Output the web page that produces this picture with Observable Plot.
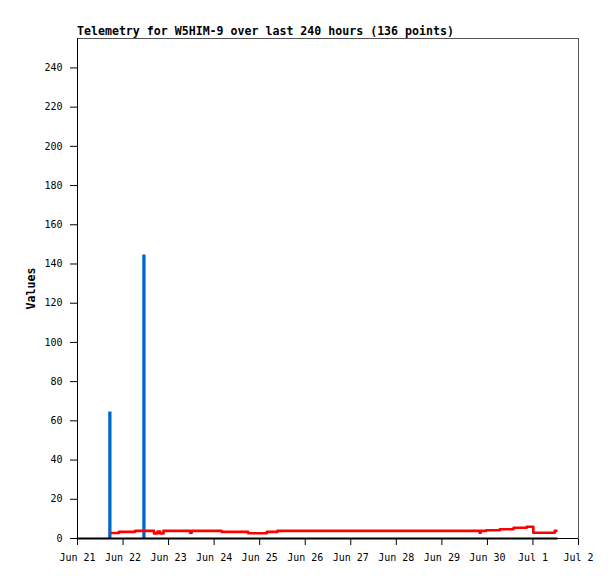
<!DOCTYPE html>
<html>
<head>
<meta charset="utf-8">
<script src="https://cdn.jsdelivr.net/npm/d3@7"></script>
<script src="https://cdn.jsdelivr.net/npm/@observablehq/plot@0.6"></script>
<style>
  html, body { margin: 0; padding: 0; background: #fff; }
  #title { height: 30px; box-sizing: border-box; padding-top: 25px; padding-left: 77px;
           font: bold 11.6px "DejaVu Sans Mono", monospace; line-height: 12px; color: #000; white-space: nowrap; overflow: visible; }
  svg [aria-label="y-axis label"] text { font-weight: bold; font-size: 11.6px; }
</style>
</head>
<body>
<div id="title"></div>
<div id="chart"></div>
<script>
const titleText = "Telemetry for W5HIM-9 over last 240 hours (136 points)";
const yLabel = "Values";
const xDomain = ["2023-06-21T00:00Z", "2023-07-02T00:00Z"];
const yTicks = [0, 20, 40, 60, 80, 100, 120, 140, 160, 180, 200, 220, 240];

// Red series (step line)
const redTimes = [
  "2023-06-21T17:57Z", "2023-06-21T21:48Z", "2023-06-22T06:18Z", "2023-06-22T16:18Z",
  "2023-06-22T18:12Z", "2023-06-22T19:30Z", "2023-06-22T21:18Z", "2023-06-23T11:18Z",
  "2023-06-23T12:12Z", "2023-06-24T03:54Z", "2023-06-24T17:54Z", "2023-06-25T03:48Z",
  "2023-06-25T09:24Z", "2023-06-29T19:54Z", "2023-06-29T20:30Z", "2023-06-29T23:24Z",
  "2023-06-30T06:30Z", "2023-06-30T13:48Z", "2023-06-30T20:42Z", "2023-07-01T00:12Z",
  "2023-07-01T11:30Z", "2023-07-01T12:24Z"
];
const redValues = [2.8, 3.4, 3.9, 2.6, 3.6, 2.6, 3.9, 2.9, 3.9, 3.4, 2.7, 3.4,
                   3.9, 2.9, 3.9, 4.2, 4.7, 5.5, 6.0, 2.9, 3.9, 3.9];

// Blue series (impulses)
const blueTimes = ["2023-06-21T17:03Z", "2023-06-22T11:00Z"];
const blueValues = [64.5, 144.6];

// Black series (zero line)
const blackTimes = ["2023-06-21T00:00Z", "2023-07-01T12:40Z"];
const blackValues = [0, 0];

document.getElementById("title").textContent = titleText;

const red = redTimes.map((t, i) => ({t: new Date(t), v: redValues[i]}));
const blue = blueTimes.map((t, i) => ({t: new Date(t), v: blueValues[i]}));
const black = blackTimes.map((t, i) => ({t: new Date(t), v: blackValues[i]}));
const xd = xDomain.map(d => new Date(d));
const xTicks = d3.utcDay.range(xd[0], d3.utcDay.offset(xd[1], 1));

const chart = Plot.plot({
  width: 615,
  height: 549,
  marginTop: 8,
  marginLeft: 77,
  marginRight: 37,
  marginBottom: 41,
  style: {fontFamily: "DejaVu Sans Mono, monospace", fontSize: "10px", color: "#000", background: "#fff"},
  x: {type: "utc", domain: xd, ticks: xTicks, tickFormat: d3.utcFormat("%b %-d"), tickSize: 7, tickPadding: 8, label: null},
  y: {domain: [0, 255], ticks: yTicks, tickSize: 7, tickPadding: 8, label: yLabel, labelArrow: "none", labelAnchor: "center", labelOffset: 51},
  marks: [
    Plot.frame({stroke: "#555", strokeWidth: 1}),
    Plot.ruleX([xd[0]], {stroke: "#000"}),
    Plot.ruleY([0], {stroke: "#000"}),
    Plot.ruleX(blue, {x: "t", y1: 0, y2: "v", stroke: "#0066cc", strokeWidth: 3.3}),
    Plot.line(red, {x: "t", y: "v", curve: "step-after", stroke: "#ff0000", strokeWidth: 2.6}),
    Plot.line(black, {x: "t", y: "v", stroke: "#000", strokeWidth: 2})
  ]
});
document.getElementById("chart").appendChild(chart);
</script>
</body>
</html>
